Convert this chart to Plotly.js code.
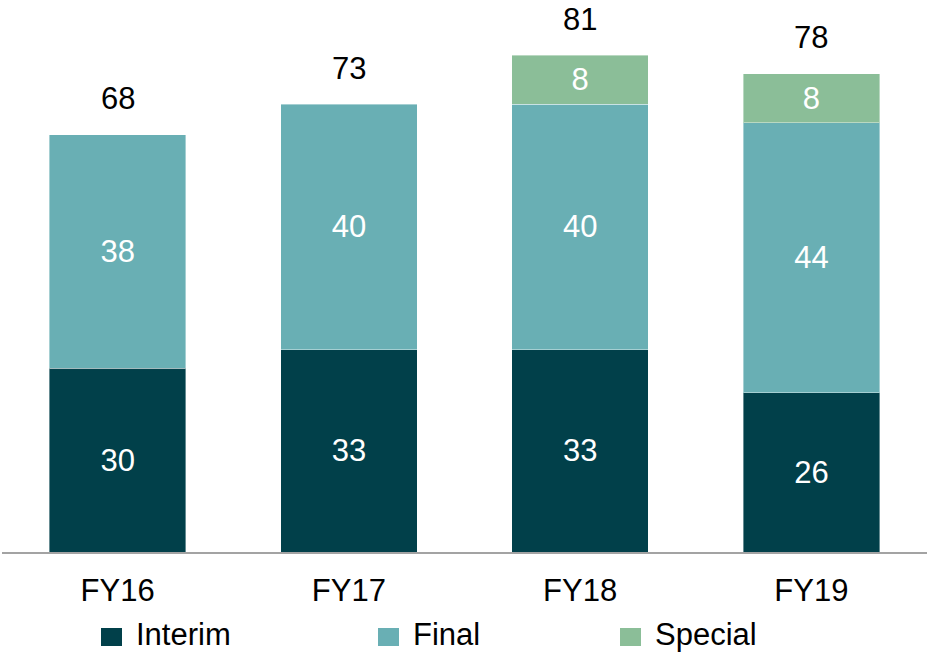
<!DOCTYPE html>
<html>
<head>
<meta charset="utf-8">
<script src="https://cdn.plot.ly/plotly-3.0.1.min.js"></script>
<style>
  html, body { margin: 0; padding: 0; background: #ffffff; }
  #chart { width: 931px; height: 654px; }
</style>
</head>
<body>
<div id="chart"></div>
<script>
// Dividend per share by financial year
const years = ['FY16', 'FY17', 'FY18', 'FY19'];
const interim = [30, 33, 33, 26];
const finalDiv = [38, 40, 40, 44];
const special = [null, null, 8, 8];
const seriesNames = ['Interim', 'Final', 'Special'];
const seriesColors = ['#01404A', '#69AFB4', '#8BBE98'];

const totals = years.map((_, i) => (interim[i] || 0) + (finalDiv[i] || 0) + (special[i] || 0));

const FONT = 'Liberation Sans, Arial, sans-serif';
const FS = 31;

// plot area in pixels (used to place the hand-drawn legend)
const W = 931, H = 654;
const M = { l: 2, r: 4, t: 0, b: 102 };
const plotW = W - M.l - M.r, plotH = H - M.t - M.b;
const px2x = px => (px - M.l) / plotW;
const px2y = py => (M.t + plotH - py) / plotH;

const seriesValues = [interim, finalDiv, special];
const traces = seriesValues.map((vals, k) => ({
  type: 'bar',
  name: seriesNames[k],
  x: years,
  y: vals,
  marker: { color: seriesColors[k], line: { color: 'rgba(255,255,255,0.4)', width: 1 } },
  text: vals.map(v => (v == null ? '' : String(v))),
  textposition: 'inside',
  insidetextanchor: 'middle',
  constraintext: 'none',
  textfont: { family: FONT, size: FS, color: '#ffffff' },
  hoverinfo: 'x+y+name',
  showlegend: false
}));

// total labels above each stack
const annotations = years.map((yr, i) => ({
  x: yr, y: totals[i], xref: 'x', yref: 'y',
  text: String(totals[i]),
  showarrow: false,
  yanchor: 'middle',
  yshift: 36,
  font: { family: FONT, size: FS, color: '#000000' }
}));

// legend row below the axis
const legendSquareLeft = [101, 378, 620];
const shapes = [];
seriesNames.forEach((name, k) => {
  const x0 = legendSquareLeft[k];
  shapes.push({
    type: 'rect', xref: 'paper', yref: 'paper',
    x0: px2x(x0), x1: px2x(x0 + 21),
    y0: px2y(646), y1: px2y(628),
    fillcolor: seriesColors[k], line: { width: 0 }
  });
  annotations.push({
    x: px2x(x0 + 33), y: px2y(635), xref: 'paper', yref: 'paper',
    xanchor: 'left', yanchor: 'middle',
    text: name, showarrow: false,
    font: { family: FONT, size: FS, color: '#000000' }
  });
});

const layout = {
  width: W, height: H,
  margin: M,
  barmode: 'stack',
  bargap: 0.41,
  paper_bgcolor: '#ffffff',
  plot_bgcolor: '#ffffff',
  showlegend: false,
  xaxis: {
    type: 'category',
    showline: true, linecolor: '#a3a3a3', linewidth: 2,
    ticks: '', showgrid: false, zeroline: false,
    tickfont: { family: FONT, size: FS, color: '#000000' },
    ticklabelstandoff: 10
  },
  yaxis: {
    range: [0, 90],
    visible: false,
    showgrid: false, zeroline: false
  },
  annotations: annotations,
  shapes: shapes
};

Plotly.newPlot('chart', traces, layout, { displayModeBar: false, staticPlot: true });
</script>
</body>
</html>
